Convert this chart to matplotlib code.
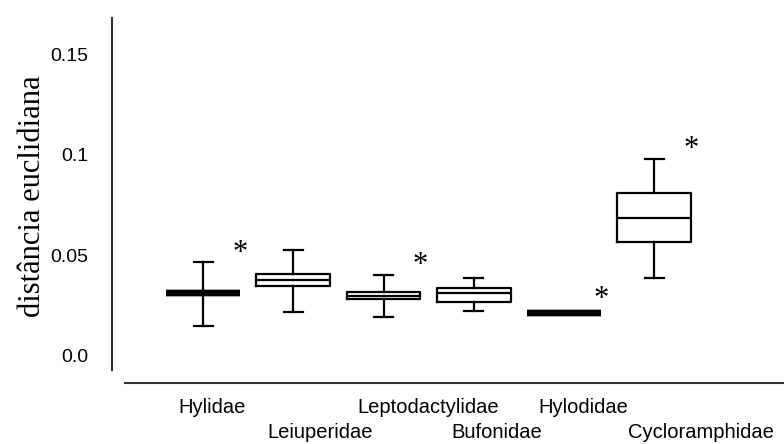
import matplotlib
matplotlib.use('Agg')
import matplotlib.pyplot as plt
import matplotlib.transforms as mtransforms

# Box statistics
families = ["Hylidae", "Leiuperidae", "Leptodactylidae", "Bufonidae", "Hylodidae", "Cycloramphidae"]
whis_lo = [0.0145, 0.0215, 0.019, 0.022, 0.021, 0.0385]
q1 = [0.031, 0.0345, 0.028, 0.0265, 0.021, 0.0565]
median = [0.031, 0.0375, 0.0295, 0.031, 0.021, 0.0685]
q3 = [0.031, 0.0405, 0.0315, 0.0335, 0.021, 0.081]
whis_hi = [0.0465, 0.0525, 0.040, 0.0385, 0.021, 0.098]

# asterisks marking significance
star_family = ["Hylidae", "Leptodactylidae", "Hylodidae", "Cycloramphidae"]
star_y = [0.0505, 0.045, 0.0275, 0.1025]

yticks = [0.0, 0.05, 0.1, 0.15]
ytick_labels = ["0.0", "0.05", "0.1", "0.15"]

# label placement (staggered like the original)
label_dx = [0.10, 0.30, 0.50, 0.25, 0.22, 0.52]
label_row = [0, 1, 0, 1, 0, 1]

fig = plt.figure(figsize=(7.84, 4.44), dpi=100)
ax = fig.add_axes([125 / 784, 61 / 444, 659 / 784, 365 / 444])

stats = []
for i, name in enumerate(families):
    stats.append({"label": name, "whislo": whis_lo[i], "q1": q1[i], "med": median[i],
                  "q3": q3[i], "whishi": whis_hi[i], "fliers": []})

positions = list(range(1, len(families) + 1))
bp = ax.bxp(stats, positions=positions, widths=0.82, capwidths=0.21,
            showfliers=False, patch_artist=False,
            boxprops=dict(color="black", linewidth=1.6),
            medianprops=dict(color="black", linewidth=1.6),
            whiskerprops=dict(color="black", linewidth=1.6),
            capprops=dict(color="black", linewidth=1.6))

# collapsed boxes are drawn as a thick bar
for i in range(len(families)):
    if q1[i] == q3[i]:
        for line in (bp["boxes"][i], bp["medians"][i]):
            line.set_linewidth(4.5)
            line.set_solid_capstyle("butt")
            line.set_solid_joinstyle("miter")
    if whis_lo[i] == whis_hi[i]:
        for k in (2 * i, 2 * i + 1):
            bp["whiskers"][k].set_visible(False)
            bp["caps"][k].set_visible(False)

for name, y in zip(star_family, star_y):
    x = families.index(name) + 1 + 0.41
    ax.text(x, y, "*", ha="center", va="center", fontsize=22,
            family="Liberation Serif")

ax.set_xlim(0.134, 7.44)
ax.set_ylim(-0.014, 0.1685)
ax.set_xticks([])
ax.set_yticks(yticks)
ax.set_yticklabels(ytick_labels)
ax.tick_params(axis="y", length=0, pad=17, labelsize=14,
               labelfontfamily="Liberation Sans")

ax.spines["top"].set_visible(False)
ax.spines["right"].set_visible(False)
ax.spines["left"].set_position(("outward", 9.4))
ax.spines["left"].set_bounds(-0.0075, 0.1685)
for s in ("left", "bottom"):
    ax.spines[s].set_linewidth(1.5)
    ax.spines[s].set_color("#333333")

trans = mtransforms.blended_transform_factory(ax.transData, fig.transFigure)
row_y = [1 - 413 / 444, 1 - 438 / 444]
for i, name in enumerate(families):
    ax.text(positions[i] + label_dx[i], row_y[label_row[i]], name, transform=trans,
            ha="center", va="baseline", fontsize=14.5, family="Liberation Sans",
            clip_on=False)

fig.text(33 / 784, 1 - 196 / 444, "distância euclidiana", rotation=90,
         ha="center", va="center", fontsize=22, family="Liberation Serif")

fig.savefig("out.png", dpi=100)
